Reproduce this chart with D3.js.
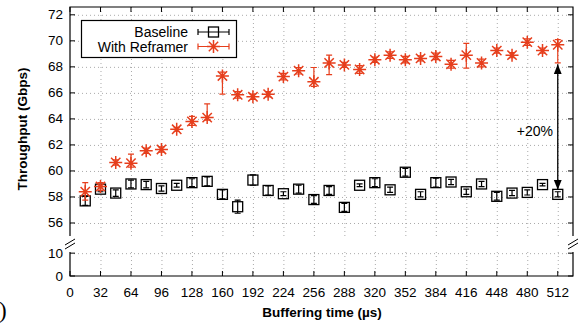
<!DOCTYPE html>
<html>
<head>
<meta charset="utf-8">
<script src="https://cdn.jsdelivr.net/npm/d3@7"></script>
<style>
  body { margin: 0; background: #fff; }
  svg { font-family: "Liberation Sans", Arial, sans-serif; }
</style>
</head>
<body>
<svg id="chart" width="580" height="324"></svg>
<script>
// buffering time (us)
const bufTimes = [16, 32, 48, 64, 80, 96, 112, 128, 144, 160, 176, 192, 208, 224, 240, 256,
  272, 288, 304, 320, 336, 352, 368, 384, 400, 416, 432, 448, 464, 480, 496, 512];

const baseline = [57.7, 58.6, 58.3, 59.0, 58.95, 58.65, 58.9, 59.1, 59.2, 58.2, 57.25, 59.3, 58.5, 58.25, 58.6, 57.8,
  58.5, 57.2, 58.9, 59.1, 58.55, 59.9, 58.2, 59.1, 59.15, 58.4, 59.0, 58.05, 58.3, 58.35, 58.95, 58.2];
const baselineErr = [0.35, 0.2, 0.25, 0.3, 0.25, 0.2, 0.15, 0.3, 0.35, 0.35, 0.5, 0.4, 0.35, 0.15, 0.3, 0.3,
  0.3, 0.3, 0.1, 0.3, 0.2, 0.3, 0.2, 0.35, 0.2, 0.2, 0.2, 0.3, 0.2, 0.2, 0.1, 0.2];

const reframer = [58.4, 58.8, 60.65, 60.6, 61.55, 61.65, 63.2, 63.8, 64.1, 67.3, 65.85, 65.7, 65.9, 67.25, 67.7, 66.85,
  68.3, 68.15, 67.8, 68.55, 68.9, 68.55, 68.65, 68.8, 68.2, 68.9, 68.3, 69.25, 68.9, 69.9, 69.25, 69.7];
const reframerLo = [57.75, 58.5, 60.45, 60.3, 61.35, 61.45, 63.05, 63.5, 63.9, 65.9, 65.6, 65.5, 65.7, 67.0, 67.45, 66.5,
  67.4, 67.95, 67.5, 68.35, 68.65, 68.3, 68.45, 68.55, 67.9, 67.9, 68.0, 69.05, 68.7, 69.65, 69.05, 68.3];
const reframerHi = [59.1, 59.1, 60.85, 61.3, 61.75, 61.85, 63.35, 64.2, 65.15, 67.6, 66.1, 65.9, 66.1, 67.5, 67.95, 67.95,
  68.9, 68.35, 68.1, 68.75, 69.15, 68.8, 68.85, 69.05, 68.5, 69.8, 68.6, 69.45, 69.1, 70.15, 69.45, 70.1];

const xTicks = [0, 32, 64, 96, 128, 160, 192, 224, 256, 288, 320, 352, 384, 416, 448, 480, 512];
const yTicksUpper = [56, 58, 60, 62, 64, 66, 68, 70, 72];
const yTicksLower = [0, 10];

const RED = "#e63e1c";

const svg = d3.select("#chart");
const left = 70, right = 573;

const x = d3.scaleLinear().domain([0, 528]).range([left, right]);
const yU = d3.scaleLinear().domain([55, 72.6]).range([236, 7]);
const yL = d3.scaleLinear().domain([0, 10.5]).range([276, 252]);

// grid
const grid = svg.append("g").attr("stroke", "#aaa").attr("stroke-width", 1).attr("stroke-dasharray", "1,3");
yTicksUpper.forEach(v => grid.append("line").attr("x1", left).attr("x2", right).attr("y1", yU(v) + 0.5).attr("y2", yU(v) + 0.5));
grid.append("line").attr("x1", left).attr("x2", right).attr("y1", yL(10) + 0.5).attr("y2", yL(10) + 0.5);
xTicks.slice(1).forEach(v => {
  grid.append("line").attr("x1", x(v) + 0.5).attr("x2", x(v) + 0.5).attr("y1", yU.range()[1]).attr("y2", yU.range()[0]);
  grid.append("line").attr("x1", x(v) + 0.5).attr("x2", x(v) + 0.5).attr("y1", yL.range()[1]).attr("y2", yL.range()[0]);
});

// borders
const ax = svg.append("g").attr("stroke", "#000").attr("stroke-width", 1.2).attr("fill", "none");
ax.append("path").attr("d", `M${left},${yU.range()[0]}V${yU.range()[1]}H${right}V${yU.range()[0]}`);
ax.append("path").attr("d", `M${left},${yL.range()[1]}V${yL.range()[0]}H${right}V${yL.range()[1]}`);

// ticks
const tk = svg.append("g").attr("stroke", "#000").attr("stroke-width", 1);
xTicks.forEach(v => {
  tk.append("line").attr("x1", x(v)).attr("x2", x(v)).attr("y1", yL.range()[0]).attr("y2", yL.range()[0] - 5);
  tk.append("line").attr("x1", x(v)).attr("x2", x(v)).attr("y1", yU.range()[1]).attr("y2", yU.range()[1] + 5);
});
yTicksUpper.forEach(v => {
  tk.append("line").attr("x1", left).attr("x2", left + 5).attr("y1", yU(v)).attr("y2", yU(v));
  tk.append("line").attr("x1", right).attr("x2", right - 5).attr("y1", yU(v)).attr("y2", yU(v));
});
yTicksLower.forEach(v => {
  tk.append("line").attr("x1", left).attr("x2", left + 5).attr("y1", yL(v)).attr("y2", yL(v));
  tk.append("line").attr("x1", right).attr("x2", right - 5).attr("y1", yL(v)).attr("y2", yL(v));
});

// break marks
[left, right].forEach(bx => {
  [-2, 2].forEach(d => {
    svg.append("line").attr("x1", bx - 5).attr("y1", 247 + d).attr("x2", bx + 5).attr("y2", 241 + d)
      .attr("stroke", "#000").attr("stroke-width", 1);
  });
});

// tick labels
const lab = svg.append("g").attr("font-size", 13.5).attr("fill", "#000");
xTicks.forEach(v => lab.append("text").attr("x", x(v)).attr("y", 297).attr("text-anchor", "middle").text(v));
yTicksUpper.forEach(v => lab.append("text").attr("x", 63).attr("y", yU(v) + 4.5).attr("text-anchor", "end").text(v));
yTicksLower.forEach(v => lab.append("text").attr("x", 63).attr("y", yL(v) + 4.5).attr("text-anchor", "end").text(v));

// axis titles
svg.append("text").attr("transform", "translate(27,129) rotate(-90)").attr("text-anchor", "middle")
  .attr("font-size", 13.5).attr("font-weight", "bold").text("Throughput (Gbps)");
svg.append("text").attr("x", 322).attr("y", 317).attr("text-anchor", "middle")
  .attr("font-size", 13.5).attr("font-weight", "bold").text("Buffering time (µs)");
svg.append("text").attr("x", -1).attr("y", 318).attr("font-family", "Liberation Serif, serif")
  .attr("font-size", 23).text(")");

// markers
function square(g, cx, cy) {
  g.append("rect").attr("x", cx - 5).attr("y", cy - 5).attr("width", 10).attr("height", 10)
    .attr("fill", "none").attr("stroke", "#000").attr("stroke-width", 1.3);
}
function star(g, cx, cy) {
  const r = 6.5, d = r * 0.72;
  g.append("path").attr("d", `M${cx - r},${cy}H${cx + r}M${cx},${cy - r}V${cy + r}M${cx - d},${cy - d}L${cx + d},${cy + d}M${cx - d},${cy + d}L${cx + d},${cy - d}`)
    .attr("stroke", RED).attr("stroke-width", 1.5).attr("fill", "none");
}
function vbar(g, cx, y1, y2, color) {
  g.append("path").attr("d", `M${cx},${y1}V${y2}M${cx - 3},${y1}H${cx + 3}M${cx - 3},${y2}H${cx + 3}`)
    .attr("stroke", color).attr("stroke-width", 1.2).attr("fill", "none");
}

const gB = svg.append("g");
bufTimes.forEach((t, i) => {
  vbar(gB, x(t), yU(baseline[i] + baselineErr[i]), yU(baseline[i] - baselineErr[i]), "#000");
  square(gB, x(t), yU(baseline[i]));
});
const gR = svg.append("g");
bufTimes.forEach((t, i) => {
  vbar(gR, x(t), yU(reframerHi[i]), yU(reframerLo[i]), RED);
  star(gR, x(t), yU(reframer[i]));
});

// annotation arrow
const defs = svg.append("defs");
defs.append("marker").attr("id", "ah").attr("viewBox", "0 0 10 10").attr("refX", 10).attr("refY", 5)
  .attr("markerWidth", 10).attr("markerHeight", 10).attr("markerUnits", "userSpaceOnUse").attr("orient", "auto-start-reverse")
  .append("path").attr("d", "M0,1L10,5L0,9Z").attr("fill", "#000");
svg.append("line").attr("x1", x(512)).attr("x2", x(512)).attr("y1", yU(68.2)).attr("y2", yU(58.55))
  .attr("stroke", "#000").attr("stroke-width", 1.3)
  .attr("marker-start", "url(#ah)").attr("marker-end", "url(#ah)");
svg.append("text").attr("x", 553).attr("y", 136).attr("text-anchor", "end").attr("font-size", 14).text("+20%");

// legend
const lg = svg.append("g");
lg.append("rect").attr("x", 81.5).attr("y", 20.5).attr("width", 155).attr("height", 37)
  .attr("fill", "#fff").attr("stroke", "#000").attr("stroke-width", 1.2);
lg.append("text").attr("x", 188).attr("y", 37).attr("text-anchor", "end").attr("font-size", 14).text("Baseline");
lg.append("text").attr("x", 188).attr("y", 52).attr("text-anchor", "end").attr("font-size", 14).text("With Reframer");
function hbar(g, x1, x2, cy, color) {
  g.append("path").attr("d", `M${x1},${cy}H${x2}M${x1},${cy - 3}V${cy + 3}M${x2},${cy - 3}V${cy + 3}`)
    .attr("stroke", color).attr("stroke-width", 1.2).attr("fill", "none");
}
hbar(lg, 198, 229, 32, "#000");
square(lg, 213.5, 32);
hbar(lg, 198, 229, 46.5, RED);
star(lg, 213.5, 46.5);
</script>
</body>
</html>
